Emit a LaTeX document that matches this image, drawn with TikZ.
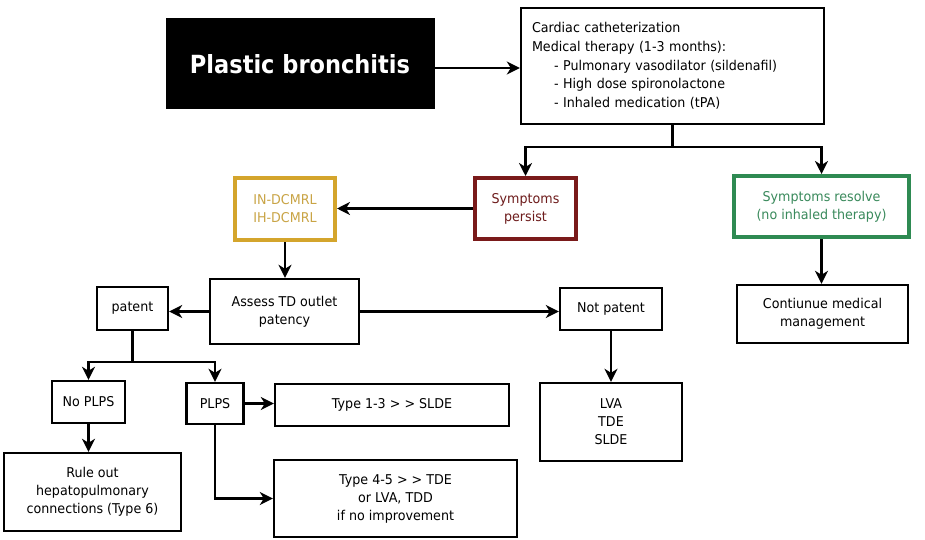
\documentclass[tikz,border=0pt]{standalone}
\usepackage{fontspec}
\setmainfont{DejaVu Sans}[FakeStretch=0.94]
\newfontfamily\pbfont{DejaVu Sans}[FakeStretch=0.9]
\usetikzlibrary{arrows.meta}
\definecolor{goldc}{HTML}{D4A52C}
\definecolor{goldt}{HTML}{C9A445}
\definecolor{redc}{HTML}{7A1A1A}
\definecolor{redt}{HTML}{6E1C1C}
\definecolor{greenc}{HTML}{2E8A52}
\definecolor{greent}{HTML}{3A8A5C}
\begin{document}
\begin{tikzpicture}[x=1pt,y=-1pt,
  every node/.style={font=\fontsize{13.5}{18}\selectfont},
  box/.style={draw, line width=2.4pt, inner sep=0pt, align=center, fill=white},
  cbox/.style={draw, line width=4pt, inner sep=0pt, align=center, fill=white},
  arr/.style={line width=2.4pt, -{Stealth[length=13pt,width=13pt,inset=4pt]}},
  ln/.style={line width=2.4pt}]
\useasboundingbox (0,0) rectangle (925,540);
\node[draw=black, fill=black, line width=0pt, minimum width=268, minimum height=90, inner sep=0pt,
  text=white, font=\pbfont\fontsize{25}{28}\selectfont\bfseries] (pb) at (300,64) {Plastic bronchitis};
\node[box, minimum width=303, minimum height=116, text width=281, align=left, inner xsep=11pt,
  font=\fontsize{13.5}{18.75}\selectfont] (cc) at (672.5,66)
  {Cardiac catheterization\\Medical therapy (1-3 months):\\
   \hspace*{22pt}- Pulmonary vasodilator (sildenafil)\\
   \hspace*{22pt}- High dose spironolactone\\
   \hspace*{22pt}- Inhaled medication (tPA)};
\node[cbox, draw=redc, text=redt, minimum width=101, minimum height=61] (sp) at (525.5,208.5) {Symptoms\\persist};
\node[cbox, draw=goldc, text=goldt, minimum width=100, minimum height=62] (dc) at (285,209) {IN-DCMRL\\IH-DCMRL};
\node[cbox, draw=greenc, text=greent, minimum width=175, minimum height=61] (sr) at (821.5,206.5) {Symptoms resolve\\(no inhaled therapy)};
\node[box, minimum width=171, minimum height=58] (cm) at (822.5,314) {Contiunue medical\\management};
\node[box, minimum width=149, minimum height=65] (as) at (284.5,311.5) {Assess TD outlet\\patency};
\node[box, minimum width=71, minimum height=43] (pa) at (132.5,308.5) {patent};
\node[box, minimum width=102, minimum height=42] (np) at (611,309) {Not patent};
\node[box, minimum width=142, minimum height=78] (lva) at (611,422) {LVA\\TDE\\SLDE};
\node[box, minimum width=73, minimum height=42] (nopl) at (88.5,402) {No PLPS};
\node[box, minimum width=57, minimum height=41] (plps) at (215,403.5) {PLPS};
\node[box, minimum width=234, minimum height=42] (t13) at (392,405) {Type 1-3 {>} {>} SLDE};
\node[box, minimum width=177, minimum height=78] (ro) at (92.5,492) {Rule out\\hepatopulmonary\\connections (Type 6)};
\node[box, minimum width=243, minimum height=77] (t45) at (395.5,498.5) {Type 4-5 {>} {>} TDE\\or LVA, TDD\\if no improvement};
% connectors
\draw[arr] ([yshift=-4pt]pb.east) -- ([yshift=-4pt]pb.east -| cc.west);
\coordinate (split) at (cc.south |- 0,147);
\draw[ln] (cc.south) -- (split);
\draw[arr] (split) -| (sp.north);
\draw[arr] (split) -| (sr.north);
\draw[arr] (sp.west) -- (sp.west -| dc.east);
\draw[arr] (sr.south) -- (sr.south |- cm.north);
\draw[arr] (dc.south) -- (dc.south |- as.north);
\draw[arr] (as.west) -- (as.west -| pa.east);
\draw[arr] (as.east) -- (as.east -| np.west);
\draw[arr] (np.south) -- (np.south |- lva.north);
\coordinate (psplit) at (pa.south |- 0,362);
\draw[ln] (pa.south) -- (psplit);
\draw[arr] (psplit) -| (nopl.north);
\draw[arr] (psplit) -| (plps.north);
\draw[arr] (nopl.south) -- (nopl.south |- ro.north);
\draw[arr] (plps.east) -- (plps.east -| t13.west);
\draw[arr] (plps.south) |- (t45.west);
\end{tikzpicture}
\end{document}
